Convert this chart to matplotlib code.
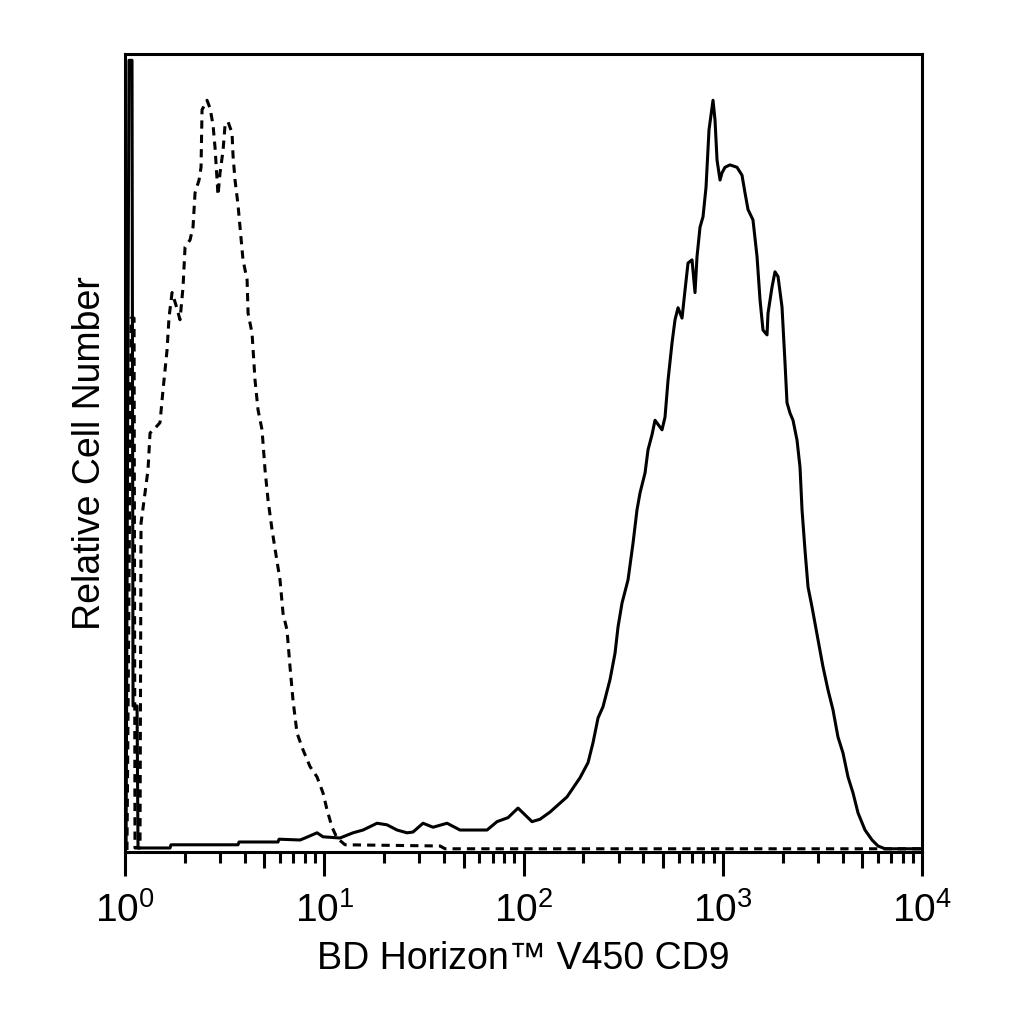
import matplotlib
matplotlib.use("Agg")
import matplotlib.pyplot as plt
from matplotlib.ticker import LogLocator, NullFormatter, NullLocator, FixedLocator

plt.rcParams["font.family"] = ["Liberation Sans", "DejaVu Sans"]

# isotype control (dashed), fluorescence intensity vs relative count
iso_x = [1.023, 1.072, 1.110, 1.122, 1.189,
         1.203, 1.260, 1.304, 1.335, 1.414, 1.498, 1.551, 1.588, 1.625, 1.663,
         1.722, 1.803, 1.888, 1.955, 2.001, 2.120, 2.194, 2.246, 2.352, 2.407,
         2.435, 2.579, 2.671, 2.765, 2.829, 2.929, 2.998, 3.104, 3.177, 3.288,
         3.444, 3.483, 3.565, 3.690, 3.777, 3.909, 4.098, 4.146, 4.340, 4.493,
         4.651, 4.871, 5.042, 5.221, 5.467, 5.726, 5.996, 6.209, 6.502, 6.731,
         6.968, 7.297, 7.822, 8.482, 9.197, 9.856, 10.32, 10.94, 11.59, 12.71,
         38.1, 40.4, 10000]
iso_y = [0.25, 66.9, 66.9, 0.5, 0.5,
         41.2, 45.0, 47.9, 52.5, 53.1, 53.8, 57.9, 60.4, 62.9, 67.0,
         70.1, 68.5, 66.7, 70.8, 75.8, 76.7, 78.3, 82.6, 84.2, 85.8,
         93.0, 94.2, 93.2, 91.1, 88.3, 82.3, 85.1, 87.9, 91.1, 91.5,
         90.1, 87.3, 84.2, 81.1, 78.3, 74.2, 71.7, 67.5, 65.0, 59.1,
         55.4, 52.9, 47.9, 44.1, 40.4, 37.2, 34.1, 29.9, 27.8, 23.2,
         19.0, 14.9, 12.8, 10.7, 9.4, 7.4, 5.3, 3.1, 1.75, 0.9,
         0.75, 0.4, 0.4]

# CD9 stained (solid)
cd9_x = [1.012, 1.047, 1.084, 1.097, 1.149, 1.162, 1.682, 1.701, 3.690, 3.734,
         5.859, 5.927, 7.554, 8.005, 9.197, 9.856, 11.99, 13.94, 15.65, 18.40,
         20.65, 23.18, 26.02, 27.89, 31.30, 35.14, 41.32, 48.01, 65.60, 73.63,
         83.60, 93.85, 110.3, 121.0, 135.8, 149.0, 165.3, 192.1, 210.8, 223.3,
         236.6, 250.6, 271.7, 287.9, 298.1, 312.2, 334.6, 354.5, 371.3, 384.4,
         407.3, 421.6, 441.6, 457.1, 495.6, 513.1, 531.2, 556.4, 576.0, 596.3,
         624.5, 646.5, 669.3, 700.9, 725.6, 742.6, 768.9, 796.0, 824.1, 853.1,
         893.5, 914.5, 935.9, 968.8, 991.3, 1026, 1087, 1179, 1249, 1293,
         1339, 1418, 1486, 1538, 1592, 1668, 1687, 1767, 1829, 1894,
         1983, 2053, 2101, 2175, 2252, 2359, 2442, 2499, 2587, 2679,
         2805, 3006, 3185, 3375, 3575, 3787, 4013, 4252, 4505, 4773,
         5175, 5613, 6015, 6522, 10000]
cd9_y = [0.5, 99.2, 99.2, 18.3, 18.3, 0.5, 0.5, 0.9, 0.9, 1.25,
         1.25, 1.6, 1.5, 1.75, 2.4, 1.9, 1.75, 2.4, 2.75, 3.6,
         3.4, 2.75, 2.4, 2.5, 3.6, 3.1, 3.6, 2.75, 2.75, 3.8,
         4.3, 5.5, 3.8, 4.1, 5.0, 5.9, 6.9, 9.3, 11.2, 13.7,
         16.8, 18.2, 21.6, 24.9, 28.2, 31.2, 34.1, 38.7, 42.9, 45.0,
         47.5, 50.4, 52.3, 54.1, 52.9, 54.5, 59.1, 63.8, 66.7, 68.2,
         66.9, 70.4, 73.8, 74.2, 70.1, 74.6, 78.3, 79.6, 83.3, 90.5,
         94.2, 91.7, 86.7, 84.2, 85.1, 85.8, 86.1, 85.8, 84.8, 82.6,
         80.5, 79.2, 74.6, 69.2, 65.4, 64.8, 67.5, 70.8, 72.7, 72.1,
         68.3, 61.3, 56.3, 55.0, 54.1, 51.6, 48.2, 42.9, 37.8, 33.2,
         30.7, 26.6, 23.2, 20.3, 17.8, 14.4, 12.4, 9.4, 7.4, 4.9,
         2.75, 1.5, 0.75, 0.4, 0.4]

fig = plt.figure(figsize=(10.24, 10.24), dpi=100)
ax = fig.add_axes([0.1221, 0.168, 0.7783, 0.7793])

ax.plot(iso_x, iso_y, color="black", linewidth=2.2, linestyle=(0, (2.7, 2.0)))
ax.plot(cd9_x, cd9_y, color="black", linewidth=2.2)

ax.set_xscale("log")
ax.set_xlim(1, 10000)
ax.set_ylim(0, 100)

for spine in ax.spines.values():
    spine.set_linewidth(2.2)

ax.yaxis.set_major_locator(NullLocator())
ax.xaxis.set_major_locator(LogLocator(base=10, numticks=10))
ax.xaxis.set_minor_locator(FixedLocator(
    [m * 10 ** d for d in range(4) for m in (2, 3, 4, 6, 7, 8, 9)]))
ax.xaxis.set_minor_formatter(NullFormatter())
ax.tick_params(axis="x", which="major", direction="out", length=17,
               width=2.2, labelsize=28, pad=12)
ax.tick_params(axis="x", which="minor", direction="out", length=8, width=2.2)

# the 5s get a slightly longer mark
sec = ax.secondary_xaxis("bottom")
sec.spines["bottom"].set_visible(False)
sec.xaxis.set_major_locator(FixedLocator([5, 50, 500, 5000]))
sec.xaxis.set_major_formatter(NullFormatter())
sec.xaxis.set_minor_locator(NullLocator())
sec.tick_params(axis="x", which="major", direction="out", length=11.5, width=2.2)

ax.set_xlabel("BD Horizon™ V450 CD9", fontsize=27, labelpad=8)
ax.set_ylabel("Relative Cell Number", fontsize=27, labelpad=12)

fig.savefig("out.png", dpi=100)
